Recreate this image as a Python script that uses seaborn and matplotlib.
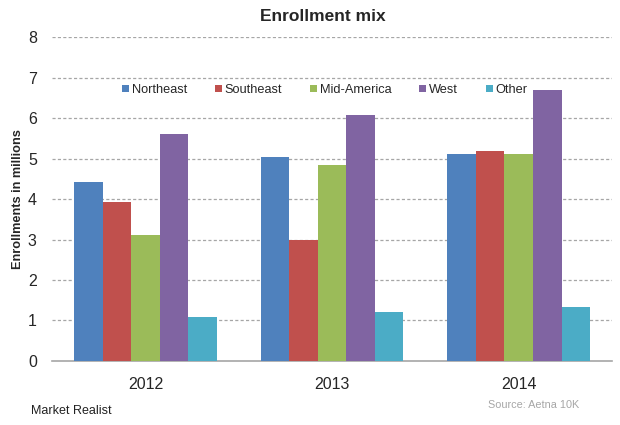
import pandas as pd
import numpy as np
import matplotlib.pyplot as plt
import seaborn as sns

years = ['2012', '2013', '2014']
regions = ['Northeast', 'Southeast', 'Mid-America', 'West', 'Other']
northeast = [4.42, 5.05, 5.11]
southeast = [3.93, 3.00, 5.19]
mid_america = [3.11, 4.85, 5.11]
west = [5.60, 6.07, 6.70]
other = [1.08, 1.20, 1.34]
colors = ['#4F81BD', '#C0504D', '#9BBB59', '#8064A2', '#4BACC6']

values = [northeast, southeast, mid_america, west, other]
df = pd.DataFrame({
    'year': years * len(regions),
    'region': np.repeat(regions, len(years)),
    'value': np.concatenate(values),
})

sns.set_style('white')
plt.rcParams['font.family'] = ['Liberation Sans', 'DejaVu Sans']

fig = plt.figure(figsize=(6.2, 4.25), dpi=100)
ax = fig.add_axes([0.084, 0.151, 0.903, 0.761])

sns.barplot(data=df, x='year', y='value', hue='region', hue_order=regions,
            palette=colors, width=0.766, gap=0, saturation=1,
            linewidth=0, ax=ax, zorder=3)

ax.set_ylim(0, 8)
ax.set_xlim(-0.5, 2.5)
ax.set_yticks(range(0, 9))
for y in range(1, 9):
    ax.axhline(y, color='#A6A6A6', linestyle=(0, (2.5, 1.8)), linewidth=0.9, zorder=1)

for s in ['top', 'right', 'left']:
    ax.spines[s].set_visible(False)
ax.spines['bottom'].set_color('#A6A6A6')
ax.spines['bottom'].set_linewidth(1.2)

ax.set_xticks([-0.5, 0.5, 1.5, 2.5], minor=True)
ax.tick_params(axis='x', which='minor', length=5, color='#A6A6A6', width=1, direction='out')
ax.tick_params(axis='x', which='major', length=0, labelsize=11.5, pad=12)
ax.tick_params(axis='y', length=0, labelsize=11.5, pad=11)

ax.set_xlabel('')
ax.set_ylabel('Enrollments in millions', fontsize=9.2, fontweight='bold', labelpad=3)
ax.set_title('Enrollment mix', fontsize=12.5, fontweight='bold', pad=12, x=0.483)

leg = ax.legend(loc='center', bbox_to_anchor=(0.487, 0.837), ncol=5, frameon=False,
                fontsize=9.2, handlelength=0.55, handleheight=0.55, handletextpad=0.2,
                columnspacing=2.2)

fig.text(0.05, 0.027, 'Market Realist', fontsize=9, color='#222222')
fig.text(0.934, 0.04, 'Source: Aetna 10K', fontsize=7.8, color='#A6A6A6', ha='right')

fig.savefig('out.png', dpi=100)
